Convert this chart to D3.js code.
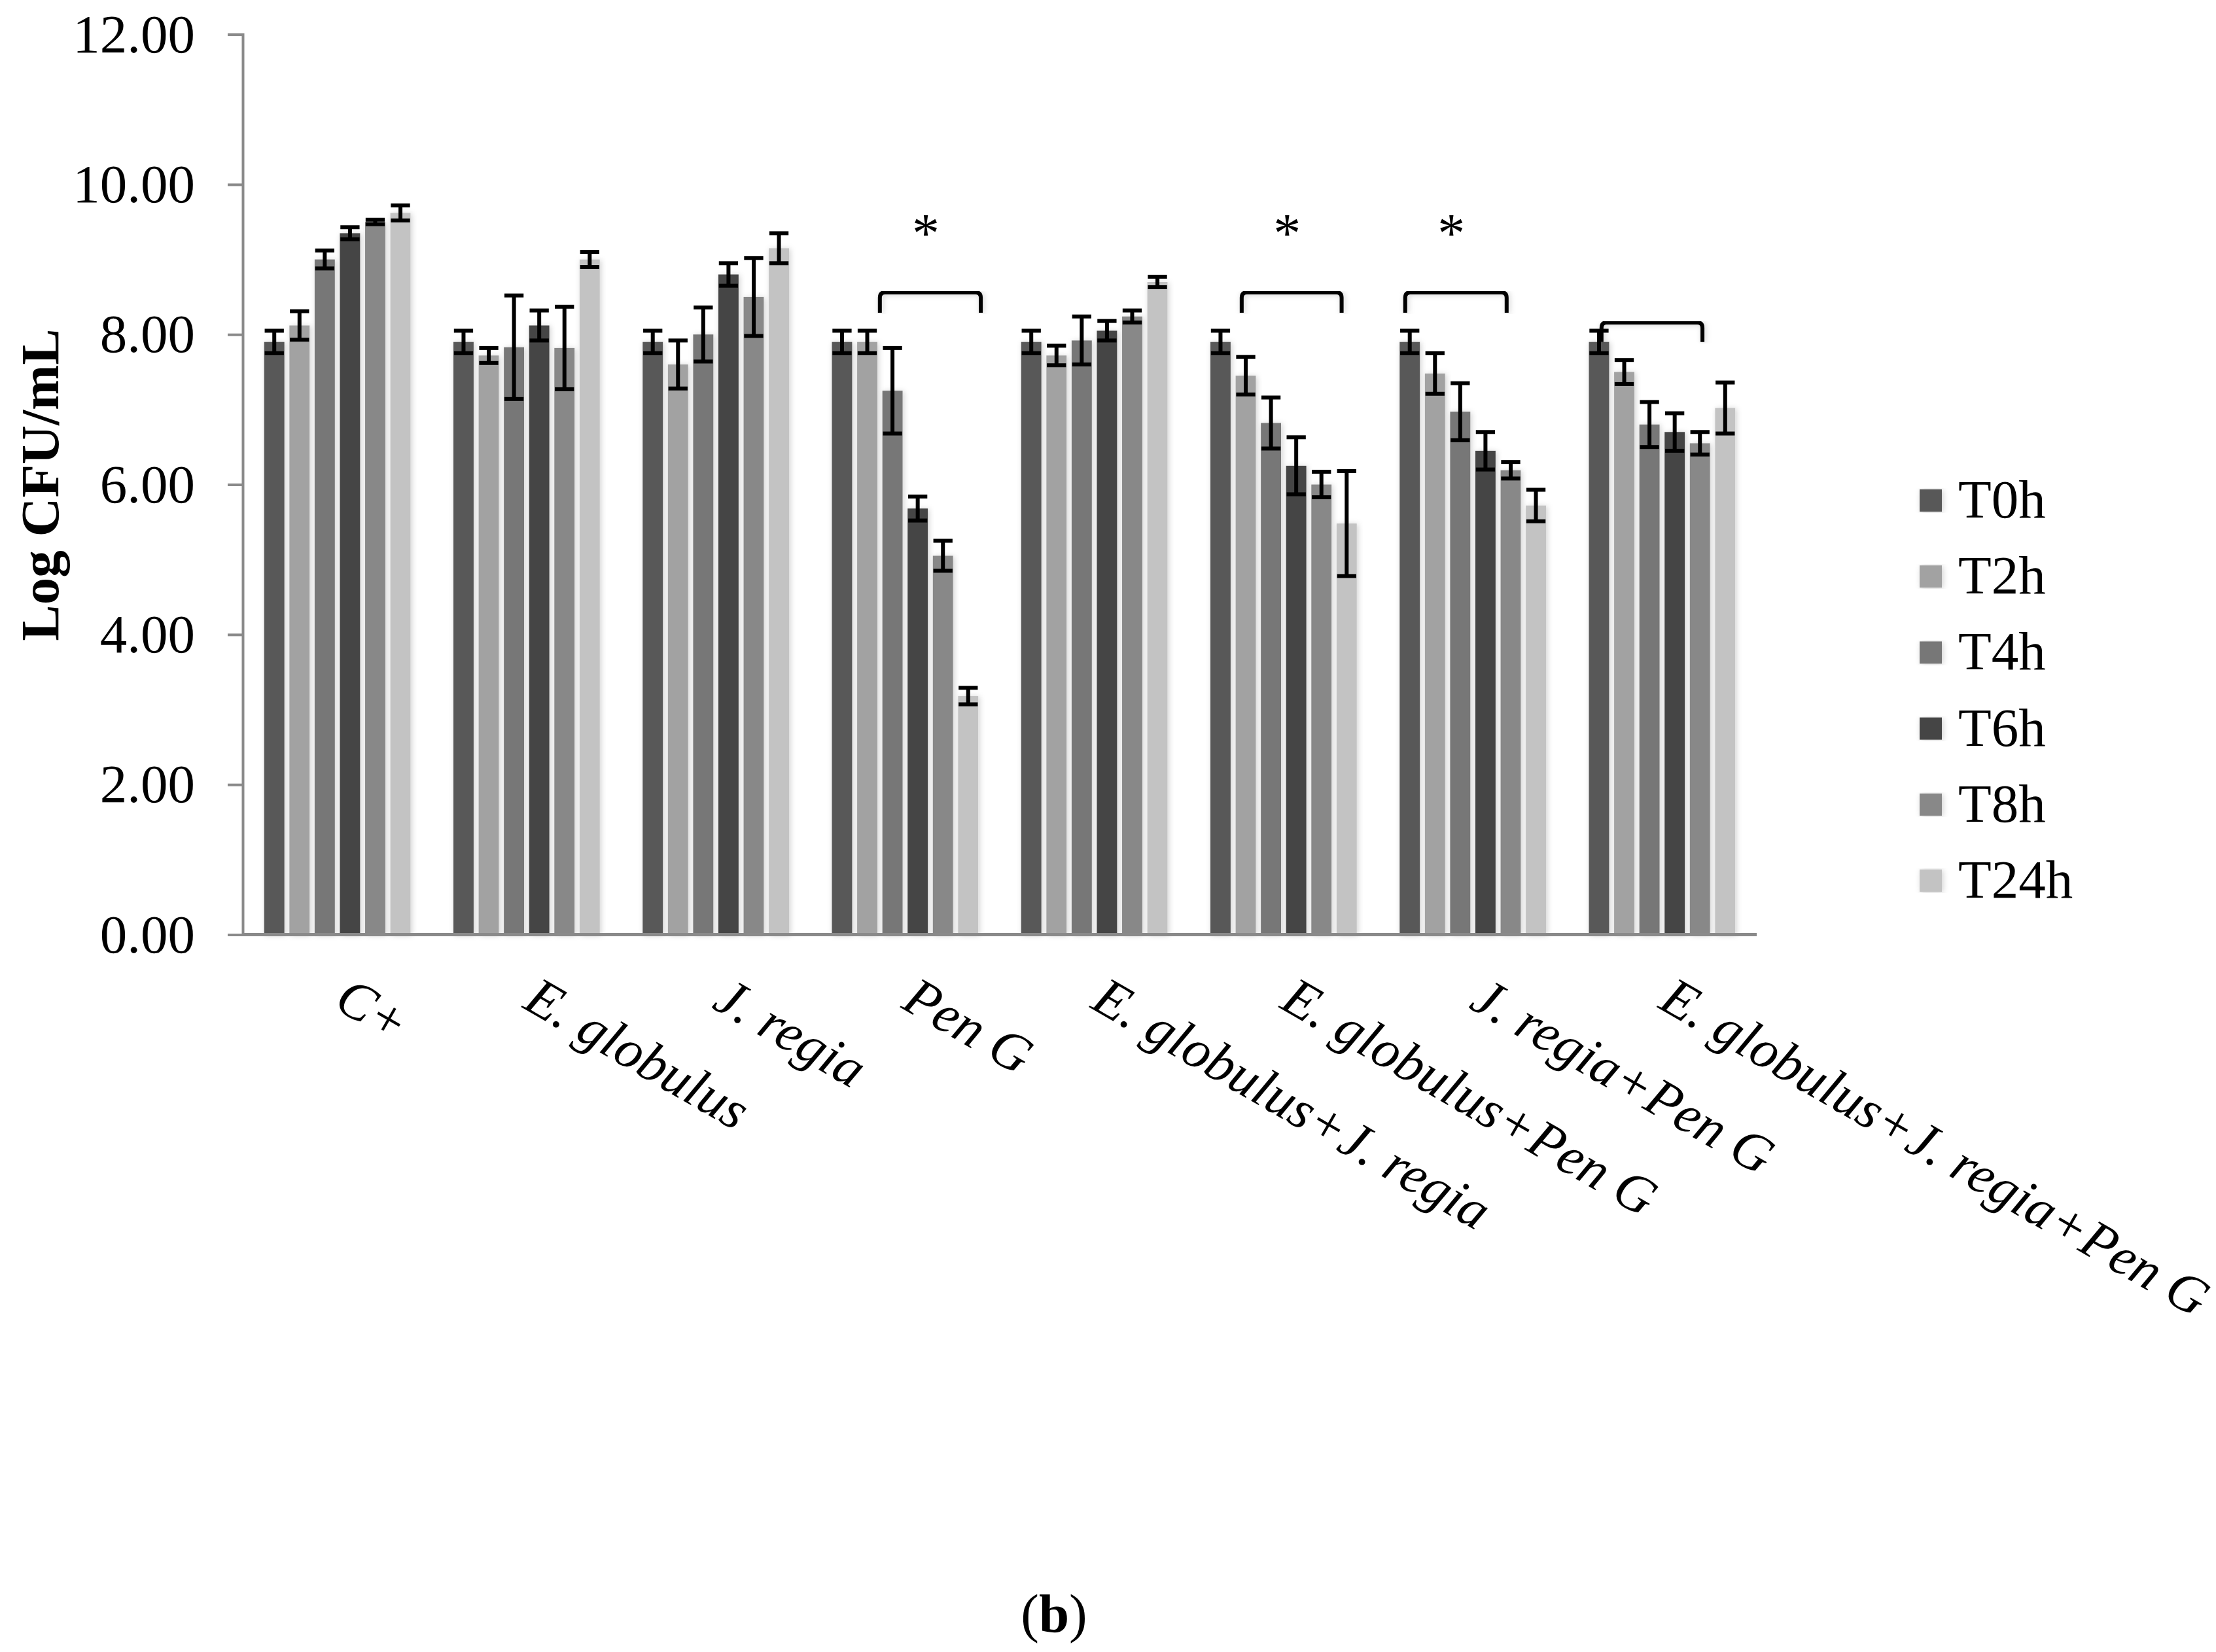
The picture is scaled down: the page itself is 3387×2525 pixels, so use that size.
<!DOCTYPE html>
<html>
<head>
<meta charset="utf-8">
<script src="https://cdn.jsdelivr.net/npm/d3@7"></script>
<style>
  body { margin: 0; background: #fff; }
  svg { display: block; font-family: "Liberation Serif", "Times New Roman", serif; }
</style>
</head>
<body>
<div id="chart"></div>
<script>
(function(){
  'use strict';

  var categories = ['C+', 'E. globulus', 'J. regia', 'Pen G', 'E. globulus+J. regia',
                    'E. globulus+Pen G', 'J. regia+Pen G', 'E. globulus+J. regia+Pen G'];
  var series = ['T0h', 'T2h', 'T4h', 'T6h', 'T8h', 'T24h'];
  var yTicks = [0, 2, 4, 6, 8, 10, 12];

  // mean Log CFU/mL per category
  var t0h  = [7.90, 7.90, 7.90, 7.90, 7.90, 7.90, 7.90, 7.90];
  var t2h  = [8.12, 7.72, 7.60, 7.90, 7.72, 7.45, 7.48, 7.50];
  var t4h  = [9.00, 7.83, 8.00, 7.25, 7.92, 6.82, 6.97, 6.80];
  var t6h  = [9.35, 8.12, 8.80, 5.68, 8.05, 6.25, 6.45, 6.70];
  var t8h  = [9.50, 7.82, 8.50, 5.05, 8.24, 6.00, 6.19, 6.55];
  var t24h = [9.62, 9.00, 9.15, 3.18, 8.70, 5.48, 5.72, 7.02];

  // standard deviations
  var t0hErr  = [0.15, 0.15, 0.15, 0.15, 0.15, 0.15, 0.15, 0.15];
  var t2hErr  = [0.19, 0.10, 0.32, 0.15, 0.13, 0.25, 0.27, 0.16];
  var t4hErr  = [0.12, 0.69, 0.36, 0.57, 0.32, 0.34, 0.38, 0.30];
  var t6hErr  = [0.08, 0.20, 0.15, 0.16, 0.13, 0.38, 0.25, 0.25];
  var t8hErr  = [0.03, 0.55, 0.52, 0.20, 0.08, 0.17, 0.11, 0.15];
  var t24hErr = [0.10, 0.10, 0.20, 0.11, 0.07, 0.70, 0.21, 0.34];

  // significance brackets: span in bar slots, height in data units
  var brackets = [
    {cat: 'Pen G', from: 2, to: 6, y: 8.56, foot: 8.29, star: true},
    {cat: 'E. globulus+Pen G', from: 1.34, to: 5.3, y: 8.56, foot: 8.29, star: true},
    {cat: 'J. regia+Pen G', from: 0.32, to: 4.34, y: 8.56, foot: 8.29, star: true},
    {cat: 'E. globulus+J. regia+Pen G', from: 0.6, to: 4.6, y: 8.16, foot: 7.9, star: false}
  ];
  var starY = 9.45;

  var means = [t0h, t2h, t4h, t6h, t8h, t24h],
      errs = [t0hErr, t2hErr, t4hErr, t6hErr, t8hErr, t24hErr],
      c = ['#585858', '#a2a2a2', '#777777', '#454545', '#888888', '#c3c3c3'],
      w = 3387,
      h = 2525,
      left = 371,
      right = 2685,
      top = 52.6,
      bottom = 1428.5;

  var data = categories.map(function(cat, i) {
    return {cat: cat, vals: series.map(function(s, j) {
      return {s: s, v: means[j][i], e: errs[j][i]};
    })};
  });

  var svg = d3.select('#chart').append('svg')
    .attr('width', w)
    .attr('height', h);

  var defs = svg.append('defs');
  defs.append('filter')
    .attr('id', 'glow')
    .attr('x', '-30%').attr('y', '-5%').attr('width', '160%').attr('height', '110%')
    .append('feDropShadow')
    .attr('dx', 2).attr('dy', 1)
    .attr('stdDeviation', 4)
    .attr('flood-color', '#000')
    .attr('flood-opacity', 0.18);

  var x0 = d3.scaleBand()
      .domain(categories)
      .range([left, right])
      .paddingInner(0.2)
      .paddingOuter(0.1);

  var x1 = d3.scaleBand()
      .domain(series)
      .range([0, x0.bandwidth()])
      .paddingInner(0.2)
      .paddingOuter(0.1);

  var slot = d3.scaleLinear()
      .domain([0, series.length])
      .range([0, x0.bandwidth()]);

  var y = d3.scaleLinear()
      .domain([0, 12])
      .range([bottom, top]);

  var color = d3.scaleOrdinal().domain(series).range(c);

  // y axis
  var yAxis = d3.axisLeft(y)
      .tickValues(yTicks)
      .tickFormat(d3.format('.2f'))
      .tickSize(23)
      .tickPadding(50);

  var gy = svg.append('g')
    .attr('transform', 'translate(' + left + ',0)')
    .call(yAxis);
  gy.select('.domain').attr('stroke', '#8a8a8a').attr('stroke-width', 4);
  gy.selectAll('.tick line').attr('stroke', '#8a8a8a').attr('stroke-width', 4);
  gy.selectAll('.tick text')
    .attr('fill', '#000')
    .style('font-family', '"Liberation Serif", serif')
    .style('font-size', '83px');

  // bars
  var groups = svg.selectAll('.grp')
    .data(data)
    .enter()
    .append('g')
    .attr('class', 'grp')
    .attr('transform', function(d) { return 'translate(' + x0(d.cat) + ',0)'; });

  groups.selectAll('.bar')
    .data(function(d) { return d.vals; })
    .enter()
    .append('rect')
    .attr('class', 'bar')
    .attr('x', function(d) { return x1(d.s); })
    .attr('y', function(d) { return y(d.v); })
    .attr('width', x1.bandwidth())
    .attr('height', function(d) { return y(0) - y(d.v); })
    .attr('filter', 'url(#glow)')
    .style('fill', function(d) { return color(d.s); });

  // error bars
  var cap = x1.bandwidth() * 0.95;
  var eb = groups.selectAll('.err')
    .data(function(d) { return d.vals; })
    .enter()
    .append('g')
    .attr('class', 'err')
    .attr('stroke', '#000')
    .attr('stroke-width', 6);

  eb.append('line')
    .attr('x1', function(d) { return x1(d.s) + x1.bandwidth() / 2; })
    .attr('x2', function(d) { return x1(d.s) + x1.bandwidth() / 2; })
    .attr('y1', function(d) { return y(d.v + d.e); })
    .attr('y2', function(d) { return y(d.v - d.e); });
  eb.append('line')
    .attr('x1', function(d) { return x1(d.s) + (x1.bandwidth() - cap) / 2; })
    .attr('x2', function(d) { return x1(d.s) + (x1.bandwidth() + cap) / 2; })
    .attr('y1', function(d) { return y(d.v + d.e); })
    .attr('y2', function(d) { return y(d.v + d.e); });
  eb.append('line')
    .attr('x1', function(d) { return x1(d.s) + (x1.bandwidth() - cap) / 2; })
    .attr('x2', function(d) { return x1(d.s) + (x1.bandwidth() + cap) / 2; })
    .attr('y1', function(d) { return y(d.v - d.e); })
    .attr('y2', function(d) { return y(d.v - d.e); });

  // baseline
  svg.append('line')
    .attr('x1', left).attr('x2', right)
    .attr('y1', y(0)).attr('y2', y(0))
    .attr('stroke', '#8a8a8a')
    .attr('stroke-width', 5);

  // category labels
  svg.selectAll('.xlab')
    .data(categories)
    .enter()
    .append('text')
    .attr('class', 'xlab')
    .attr('transform', function(d) {
      return 'translate(' + (x0(d) + x0.bandwidth() / 2 - 8) + ',' + (y(0) + 111) + ') rotate(30)';
    })
    .attr('text-anchor', 'start')
    .style('font-style', 'italic')
    .style('font-size', '83px')
    .text(function(d) { return d; });

  // significance brackets
  var r = 8;
  svg.selectAll('.brk')
    .data(brackets)
    .enter()
    .append('path')
    .attr('class', 'brk')
    .attr('fill', 'none')
    .attr('stroke', '#000')
    .attr('stroke-width', 6)
    .attr('filter', 'url(#glow)')
    .attr('d', function(d) {
      var xa = x0(d.cat) + slot(d.from),
          xb = x0(d.cat) + slot(d.to),
          yt = y(d.y),
          yf = y(d.foot);
      return 'M' + xa + ',' + yf + 'L' + xa + ',' + (yt + r) +
             'Q' + xa + ',' + yt + ' ' + (xa + r) + ',' + yt +
             'L' + (xb - r) + ',' + yt +
             'Q' + xb + ',' + yt + ' ' + xb + ',' + (yt + r) +
             'L' + xb + ',' + yf;
    });

  svg.selectAll('.star')
    .data(brackets.filter(function(d) { return d.star; }))
    .enter()
    .append('text')
    .attr('class', 'star')
    .attr('x', function(d) { return x0(d.cat) + slot((d.from + d.to) / 2) - 7; })
    .attr('y', y(starY) + 40)
    .attr('text-anchor', 'middle')
    .style('font-size', '84px')
    .text('*');

  // y title
  svg.append('text')
    .attr('transform', 'translate(89,741) rotate(-90)')
    .attr('text-anchor', 'middle')
    .style('font-weight', 'bold')
    .style('font-size', '83px')
    .text('Log CFU/mL');

  // legend
  var leg = svg.selectAll('.leg')
    .data(series)
    .enter()
    .append('g')
    .attr('class', 'leg')
    .attr('transform', function(d, i) { return 'translate(2934,' + (765 + i * 116.2) + ')'; });

  leg.append('rect')
    .attr('x', 0).attr('y', -17)
    .attr('width', 34).attr('height', 34)
    .attr('filter', 'url(#glow)')
    .style('fill', function(d) { return color(d); });

  leg.append('text')
    .attr('x', 59)
    .attr('y', 26)
    .style('font-size', '83px')
    .text(function(d) { return d; });

  // panel label
  var cap2 = svg.append('text')
    .attr('x', 1611)
    .attr('y', 2494)
    .attr('text-anchor', 'middle')
    .style('font-size', '83px');
  cap2.append('tspan').text('(');
  cap2.append('tspan').style('font-weight', 'bold').text('b');
  cap2.append('tspan').text(')');

}());
</script>
</body>
</html>
